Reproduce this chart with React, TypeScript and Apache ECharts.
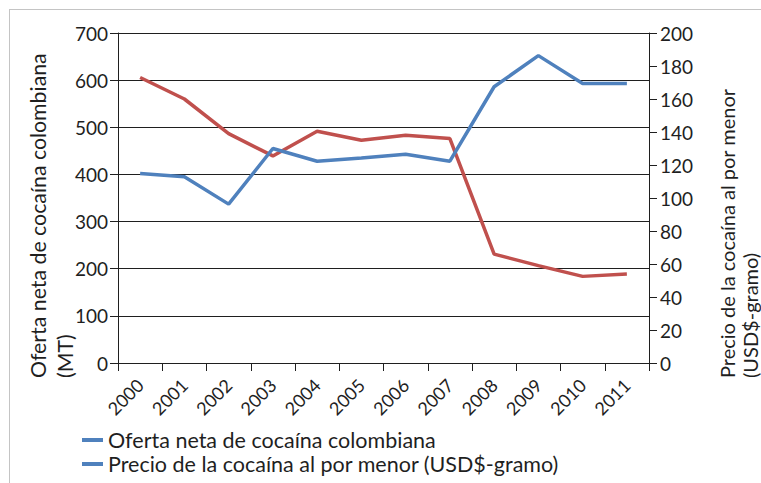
import React, { useEffect, useRef } from "react";
import * as echarts from "echarts";

// Años de la serie
const years = ["2000", "2001", "2002", "2003", "2004", "2005", "2006", "2007", "2008", "2009", "2010", "2011"];
// Oferta neta de cocaína colombiana (MT) — eje izquierdo
const oferta = [402, 395, 337, 455, 428, 435, 443, 428, 586, 652, 593, 593];
// Precio de la cocaína al por menor (USD$-gramo) — eje derecho
const precio = [173, 160, 139, 125.5, 140.5, 135, 138, 136, 66, 59, 52.5, 54];

const seriesNames = [
  "Oferta neta de cocaína colombiana",
  "Precio de la cocaína al por menor (USD$-gramo)",
];
const leftTitle = "Oferta neta de cocaína colombiana\n(MT)";
const rightTitle = "Precio de la cocaína al por menor\n(USD$-gramo)";

const FONT = "Lato, 'Open Sans', sans-serif";
const BLUE = "#4f81bd";
const RED = "#c0504d";
const INK = "#1f1f1f";

export default function App() {
  const ref = useRef<HTMLDivElement>(null);

  useEffect(() => {
    if (!ref.current) return;
    const chart = echarts.init(ref.current, undefined, { renderer: "svg" });
    chart.setOption({
      animation: false,
      backgroundColor: "#ffffff",
      textStyle: { fontFamily: FONT },
      grid: { left: 118, right: 112, top: 33, bottom: 120, containLabel: false },
      legend: {
        orient: "vertical",
        left: 82,
        top: 428,
        padding: 0,
        itemWidth: 21,
        itemHeight: 4,
        itemGap: 0,
        icon: "rect",
        textStyle: { fontFamily: FONT, fontSize: 21.5, color: INK, lineHeight: 24 },
        data: [
          { name: seriesNames[0], itemStyle: { color: BLUE } },
          { name: seriesNames[1], itemStyle: { color: BLUE } },
        ],
      },
      xAxis: {
        type: "category",
        data: years,
        boundaryGap: true,
        axisLine: { lineStyle: { color: INK, width: 1 } },
        axisTick: { show: true, length: 8, lineStyle: { color: INK } },
        axisLabel: { rotate: 45, margin: 19, fontSize: 18, color: INK, fontFamily: FONT },
        splitLine: { show: false },
      },
      yAxis: [
        {
          type: "value",
          min: 0,
          max: 700,
          interval: 100,
          position: "left",
          axisLine: { show: true, lineStyle: { color: INK, width: 1 } },
          axisTick: { show: true, length: 8, lineStyle: { color: INK } },
          axisLabel: { margin: 10, fontSize: 19, color: INK, fontFamily: FONT },
          splitLine: { show: true, lineStyle: { color: INK, width: 1 } },
        },
        {
          type: "value",
          min: 0,
          max: 200,
          interval: 20,
          position: "right",
          axisLine: { show: true, lineStyle: { color: INK, width: 1 } },
          axisTick: { show: true, length: 8, lineStyle: { color: INK } },
          axisLabel: { margin: 11, fontSize: 19, color: INK, fontFamily: FONT },
          splitLine: { show: false },
        },
      ],
      series: [
        {
          name: seriesNames[0],
          type: "line",
          data: oferta,
          yAxisIndex: 0,
          symbol: "none",
          lineStyle: { color: BLUE, width: 3.5 },
          itemStyle: { color: BLUE },
          z: 3,
        },
        {
          name: seriesNames[1],
          type: "line",
          data: precio,
          yAxisIndex: 1,
          symbol: "none",
          lineStyle: { color: RED, width: 3.5 },
          itemStyle: { color: RED },
          z: 2,
        },
      ],
      graphic: [
        // marco exterior gris claro
        { type: "line", shape: { x1: 9.5, y1: 9, x2: 9.5, y2: 483 }, style: { stroke: "#c4c4c4", lineWidth: 1 } },
        { type: "line", shape: { x1: 9, y1: 9.5, x2: 761, y2: 9.5 }, style: { stroke: "#c4c4c4", lineWidth: 1 } },
        {
          type: "text",
          x: 24,
          y: 378,
          rotation: Math.PI / 2,
          style: {
            text: leftTitle,
            fontFamily: FONT,
            fontSize: 21.3,
            fill: INK,
            align: "left",
            verticalAlign: "top",
            lineHeight: 27,
          },
        },
        {
          type: "text",
          x: 715,
          y: 378,
          rotation: Math.PI / 2,
          style: {
            text: rightTitle,
            fontFamily: FONT,
            fontSize: 20,
            fill: INK,
            align: "left",
            verticalAlign: "top",
            lineHeight: 23,
          },
        },
      ],
    });
    return () => chart.dispose();
  }, []);

  return (
    <div
      ref={ref}
      style={{ position: "fixed", left: 0, top: 0, width: 761, height: 483 }}
    />
  );
}
